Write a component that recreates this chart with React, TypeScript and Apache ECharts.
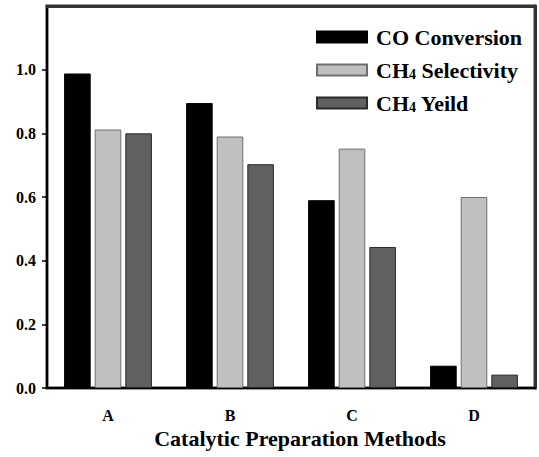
import React, { useEffect, useRef } from "react";
import * as echarts from "echarts";

const categories = ["A", "B", "C", "D"];
const coConversion = [0.988, 0.895, 0.59, 0.07];
const ch4Selectivity = [0.812, 0.79, 0.752, 0.6];
const ch4Yield = [0.8, 0.703, 0.443, 0.042];
const seriesNames = ["CO Conversion", "CH4 Selectivity", "CH4 Yeild"];
const yTicks = [0, 0.2, 0.4, 0.6, 0.8, 1.0];

const FONT = "Liberation Serif";
const FRAME = "#333333";

export default function App() {
  const ref = useRef<HTMLDivElement>(null);
  useEffect(() => {
    if (!ref.current) return;
    const chart = echarts.init(ref.current, null, { renderer: "svg" });
    const labelRich = {
      t: { fontSize: 22, fontWeight: "bold", fontFamily: FONT, color: "#000", lineHeight: 22 },
      s: { fontSize: 14, fontWeight: "bold", fontFamily: FONT, color: "#000", lineHeight: 3, verticalAlign: "bottom" },
    };
    const frameLine = { show: true, onZero: false, lineStyle: { color: "#000", width: 2 } };
    chart.setOption({
      animation: false,
      backgroundColor: "#fff",
      textStyle: { fontFamily: FONT, fontWeight: "bold", color: "#000" },
      grid: {
        left: 47,
        right: 4,
        top: 6,
        bottom: 69,
        show: true,
        borderColor: FRAME,
        borderWidth: 3,
      },
      legend: {
        orient: "vertical",
        left: 311,
        top: 21,
        itemWidth: 50,
        itemHeight: 11,
        itemGap: 11,
        icon: "rect",
        selectedMode: false,
        data: seriesNames,
        textStyle: { padding: [0, 0, 0, 4], rich: labelRich },
        formatter: (name: string) =>
          name.startsWith("CH4")
            ? `{t|CH}{s|4}{t|${name.slice(3)}}`
            : `{t|${name}}`,
      },
      xAxis: [
        {
          type: "category",
          data: categories,
          name: "Catalytic Preparation Methods",
          nameLocation: "middle",
          nameGap: 39,
          nameTextStyle: { fontSize: 22, fontWeight: "bold", fontFamily: FONT, color: "#000", padding: [0, 0, 0, 18] },
          axisLine: frameLine,
          axisTick: { alignWithLabel: true, length: 5, lineStyle: { color: "#000", width: 2 } },
          axisLabel: { margin: 19, fontSize: 16, fontWeight: "bold", fontFamily: FONT, color: "#000" },
        },
        {
          type: "category",
          data: categories,
          position: "top",
          axisLine: { show: true, onZero: false, lineStyle: { color: FRAME, width: 3 } },
          axisTick: { show: false },
          axisLabel: { show: false },
        },
      ],
      yAxis: [
        {
          type: "value",
          min: 0,
          max: 1.2,
          interval: 0.2,
          splitLine: { show: false },
          axisLine: frameLine,
          axisTick: { show: true, length: 5, customValues: yTicks, lineStyle: { color: "#000", width: 1.5 } },
          axisLabel: {
            margin: 11,
            fontSize: 16,
            fontWeight: "bold",
            fontFamily: FONT,
            color: "#000",
            customValues: yTicks,
            formatter: (v: number) => v.toFixed(1),
          },
        },
        {
          type: "value",
          min: 0,
          max: 1.2,
          interval: 0.2,
          position: "right",
          splitLine: { show: false },
          axisLine: { show: true, onZero: false, lineStyle: { color: FRAME, width: 3 } },
          axisTick: { show: false },
          axisLabel: { show: false },
        },
      ],
      series: [
        {
          name: seriesNames[0],
          type: "bar",
          data: coConversion,
          barGap: "15%",
          barCategoryGap: "28%",
          itemStyle: { color: "#000000", borderColor: "#000000", borderWidth: 1 },
        },
        {
          name: seriesNames[1],
          type: "bar",
          data: ch4Selectivity,
          itemStyle: { color: "#c0c0c0", borderColor: "#6e6e6e", borderWidth: 1 },
        },
        {
          name: seriesNames[2],
          type: "bar",
          data: ch4Yield,
          itemStyle: { color: "#606060", borderColor: "#2a2a2a", borderWidth: 1 },
        },
      ],
    });
    return () => chart.dispose();
  }, []);
  return (
    <div
      ref={ref}
      style={{ position: "fixed", left: 0, top: 0, width: 539, height: 457 }}
    />
  );
}
